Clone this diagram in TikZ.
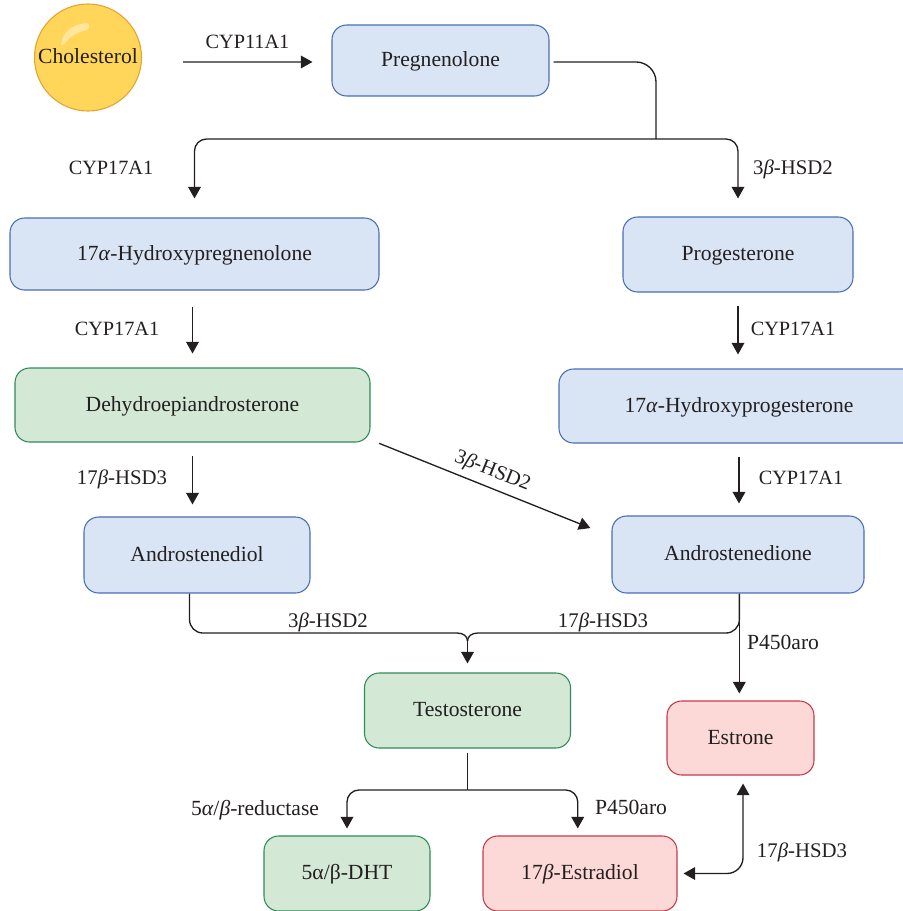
\documentclass[tikz,border=0pt]{standalone}
\usepackage{fontspec}
\setmainfont{Liberation Serif}
\usetikzlibrary{calc, positioning, arrows.meta}
\definecolor{ink}{HTML}{231F20}
\definecolor{bluefill}{HTML}{D9E5F5}
\definecolor{blueline}{HTML}{4A6DB5}
\definecolor{greenfill}{HTML}{D3E9D6}
\definecolor{greenline}{HTML}{2E8B57}
\definecolor{redfill}{HTML}{FCD9D7}
\definecolor{redline}{HTML}{C23B4B}
\definecolor{cholfill}{HTML}{FFD65A}
\definecolor{cholline}{HTML}{E3A32E}
\tikzset{
	txt/.style={text=ink, font=\fontsize{16.2}{19}\selectfont, inner sep=0pt, text height=13.2pt, text depth=3.5pt},
	caps/.style={txt, font=\fontsize{15.2}{18}\selectfont},
	hsd/.style={txt, font=\fontsize{15.6}{18}\selectfont},
	box/.style 2 args={txt, rectangle, rounded corners=11pt, line width=.8pt, minimum width=#1*0.75pt, minimum height=#2*0.75pt},
	bluebox/.style={draw=blueline, fill=bluefill},
	greenbox/.style={draw=greenline, fill=greenfill},
	redbox/.style={draw=redline, fill=redfill},
	conn/.style={line width=1pt, draw=ink},
	arr/.style={conn, -{Triangle[length=8.7pt,width=9.5pt]}},
}
\begin{document}
\begin{tikzpicture}
			[x=0.75pt, y=-0.75pt]
			\path[use as bounding box, clip] (0,0) rectangle (903,911);
			% nodes %
			\node[txt, circle, draw=cholline, fill=cholfill, line width=.8pt, minimum size=80.25pt] (chol) at (88,57.5) {};
			\fill[white, opacity=.4] (61,44) .. controls (63,31) and (73,24) .. (87,23) .. controls (90,24) and (90,28) .. (87,30) .. controls (77,32) and (70,37) .. (64,44) .. controls (62,46) and (61,46) .. (61,44);
			\node[txt] at (88,57.5) {Cholesterol};
			\node[box={217}{71}, bluebox] (preg) at (440.5,60.5) {Pregnenolone};
			\node[box={369}{72}, bluebox] (hpreg) at (194.5,254) {17\textit{α}-Hydroxypregnenolone};
			\node[box={230}{75}, bluebox] (prog) at (738,254.5) {Progesterone};
			\node[box={355}{74}, greenbox] (dhea) at (192.5,405) {Dehydroepiandrosterone};
			\node[box={360}{74}, bluebox] (hprog) at (739,406) {17\textit{α}-Hydroxyprogesterone};
			\node[box={226}{76}, bluebox] (adiol) at (197,555) {Androstenediol};
			\node[box={252}{77}, bluebox] (adione) at (738,554.5) {Androstenedione};
			\node[box={206}{75}, greenbox] (testo) at (467.5,710.5) {Testosterone};
			\node[box={147}{74}, redbox] (estrone) at (740.5,738) {Estrone};
			\node[box={166}{75}, greenbox] (dht) at (347,873.5) {5α/β-DHT};
			\node[box={194}{75}, redbox] (estradiol) at (580,873.5) {17\textit{β}-Estradiol};

			\coordinate (split) at (656,139);
			\coordinate (joinl) at (457,633);
			\coordinate (joinr) at (478,633);
			\coordinate (joint) at (467.5,641);
			\coordinate (fork) at (467.5,790);

			% labels %
			\node[caps] (l1) at (247.5,42) {CYP11A1};
			\node[caps] (l2) at (111,168) {CYP17A1};
			\node[hsd] (l3) at (793,168) {3\textit{β}-HSD2};
			\node[caps] (l4) at (117,329) {CYP17A1};
			\node[caps] (l5) at (793,329) {CYP17A1};
			\node[hsd] (l6) at (122,478) {17\textit{β}-HSD3};
			\node[caps] (l7) at (801,478) {CYP17A1};
			\node[hsd, rotate=-21.8] (l8) at (493,470) {3\textit{β}-HSD2};
			\node[hsd] (l9) at (328,621) {3\textit{β}-HSD2};
			\node[hsd] (l10) at (603,621) {17\textit{β}-HSD3};
			\node[txt] (l11) at (783,643) {P450aro};
			\node[txt] (l12) at (255,809) {5\textit{α}/\textit{β}-reductase};
			\node[txt] (l13) at (631,808) {P450aro};
			\node[hsd] (l14) at (802,851) {17\textit{β}-HSD3};

			% edges %
			\draw[arr, shorten <=30.75pt, shorten >=14.25pt] ([yshift=-3.4pt]chol.east) -- ([yshift=-1.1pt]preg.west);
			\draw[conn, rounded corners=15pt, shorten <=3pt] ([yshift=-1.1pt]preg.east) -| (split);
			\draw[arr, rounded corners=9pt, shorten >=14.25pt] (split) -| (hpreg.north);
			\draw[arr, rounded corners=9pt, shorten >=13.5pt] (split) -| (prog.north);
			\draw[arr, shorten <=12pt, shorten >=10.5pt] (dhea.north |- hpreg.south) -- (dhea.north);
			\draw[arr, shorten <=10pt, shorten >=10.5pt] (prog.south) -- (prog.south |- hprog.north);
			\draw[arr, shorten <=10pt, shorten >=9pt] (dhea.south) -- (dhea.south |- adiol.north);
			\draw[arr, shorten <=10pt, shorten >=9pt] (hprog.south) -- (hprog.south |- adione.north);
			\draw[arr, shorten <=7pt, shorten >=17pt] ([yshift=2pt]dhea.south east) -- ([yshift=-15.75pt]adione.north west);
			\draw[conn, rounded corners=10pt] ([xshift=-5.6pt]adiol.south) |- (joinl);
			\draw[conn, rounded corners=10pt] ([xshift=1pt]adione.south) |- (joinr);
			\draw[conn] (joinl) .. controls (463,633) and (467.5,636) .. (joint);
			\draw[conn] (joinr) .. controls (472,633) and (467.5,636) .. (joint);
			\draw[arr, shorten >=6.75pt] (joint) -- (joint |- testo.north);
			\draw[arr, shorten >=5.25pt] ([xshift=1pt]adione.south) -- ([xshift=1pt]adione.south |- estrone.north);
			\draw[conn, shorten <=3pt] (testo.south) -- (fork);
			\draw[arr, rounded corners=9pt, shorten >=5.25pt] (fork) -| (dht.north);
			\draw[arr, rounded corners=9pt, shorten >=5.25pt] (fork) -| ([xshift=-1.7pt]estradiol.north);
			\draw[arr, {Triangle[length=8.7pt,width=9.5pt]}-{Triangle[length=8.7pt,width=9.5pt]}, rounded corners=12pt, shorten <=6pt, shorten >=4.5pt] ([xshift=1.9pt]estrone.south) |- (estradiol.east);
			\end{tikzpicture}
\end{document}
